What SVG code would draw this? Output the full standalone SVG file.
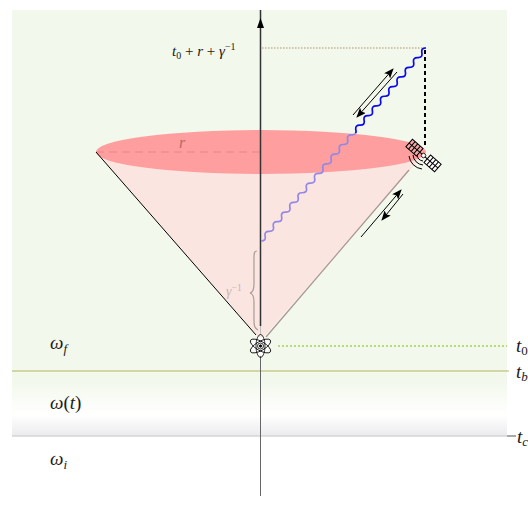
<svg xmlns="http://www.w3.org/2000/svg" width="528" height="525" viewBox="0 0 528 525">
<style>
.m{font-family:"Liberation Serif","Times New Roman",serif;font-style:italic;fill:#1a1a1a}
.n{font-style:normal}
.wave{fill:none;stroke-width:1.7}
.sat{fill:none;stroke:#000;stroke-width:1}
.arr{stroke:#000;stroke-width:1;fill:none;marker-end:url(#ah)}
</style>
<defs>
<linearGradient id="bg" x1="0" y1="0" x2="0" y2="1"><stop offset="0" stop-color="#f2f8ec"/><stop offset="0.915" stop-color="#f2f8ec"/><stop offset="0.985" stop-color="#fdfefc"/><stop offset="1" stop-color="#fff"/></linearGradient>
<linearGradient id="gr" x1="0" y1="0" x2="0" y2="1"><stop offset="0" stop-color="#fff"/><stop offset="1" stop-color="#ebebee"/></linearGradient>
<marker id="ah" viewBox="0 0 10 8" refX="9" refY="4" markerWidth="10" markerHeight="8" orient="auto" markerUnits="userSpaceOnUse"><path d="M0 0L10 4L0 8L2 4Z" fill="#000"/></marker>
<clipPath id="up"><rect x="340" y="20" width="100" height="113"/></clipPath>
<clipPath id="dn"><rect x="250" y="133" width="120" height="120"/></clipPath>
<path id="w" d="M261 241q5.1 .19 4.125 -4.825t4.125 -4.825t4.125 -4.825t4.125 -4.825t4.125 -4.825t4.125 -4.825t4.125 -4.825t4.125 -4.825t4.125 -4.825t4.125 -4.825t4.125 -4.825t4.125 -4.825t4.125 -4.825t4.125 -4.825t4.125 -4.825t4.125 -4.825t4.125 -4.825t4.125 -4.825t4.125 -4.825t4.125 -4.825t4.125 -4.825t4.125 -4.825t4.125 -4.825t4.125 -4.825t4.125 -4.825t4.125 -4.825t4.125 -4.825t4.125 -4.825t4.125 -4.825t4.125 -4.825t4.125 -4.825t4.125 -4.825t4.125 -4.825t4.125 -4.825t4.125 -4.825t4.125 -4.825t4.125 -4.825t4.125 -4.825t4.125 -4.825t4.125 -4.825"/>
</defs>
<rect id="background" x="12" y="10" width="495" height="405" fill="url(#bg)"/>
<rect id="background-lower" x="12" y="415" width="495" height="21" fill="url(#gr)"/>
<g id="cone">
<path d="M96 152L261 340L426 152Z" fill="#fbe5e1"/>
<ellipse cx="261" cy="152" rx="165" ry="22" fill="#ff9e9e"/>
<path d="M96 152H261" stroke="#e58686" stroke-width="1" stroke-dasharray="8 5" fill="none"/>
<path d="M96 152L256 335" stroke="#000" stroke-width="1" fill="none"/>
<path d="M266 337L409 170" stroke="#a89492" stroke-width="1.2" fill="none"/>
<text class="m" x="182" y="148" font-size="16" text-anchor="middle" fill-opacity="1" style="fill:#b56a6a">r</text>
</g>
<g id="connectors">
<path d="M12 371H509" stroke="#b5b25e" stroke-width="1.2" fill="none"/>
<path d="M12 436H507" stroke="#d4d4d8" stroke-width="1.6" fill="none"/>
<path d="M507 436H516" stroke="#555" stroke-width="1" fill="none"/>
<path d="M262 48H426" stroke="#c9b38f" stroke-width="1.4" stroke-dasharray="1.5 1.5" fill="none"/>
<path d="M278 346H507" stroke="#a8d050" stroke-width="1.6" stroke-dasharray="2 2" fill="none"/>
<path d="M425 50V146" stroke="#000" stroke-width="2" stroke-dasharray="4 3" fill="none"/>
<path d="M260.500 10V326" stroke="#333" stroke-width="1.5" fill="none"/>
<path d="M260.500 326V335" stroke="#bbb" stroke-width="1" fill="none"/>
<path d="M260.500 356V496" stroke="#666" stroke-width="1" fill="none"/>
<path d="M260.500 18L264 28H257Z" fill="#000"/>
<use href="#w" class="wave" stroke="#0a0aee" clip-path="url(#up)"/>
<use href="#w" class="wave" stroke="#9488e6" clip-path="url(#dn)"/>
<path class="arr" d="M353 115L393 69"/>
<path class="arr" d="M397 72L357 117"/>
<path class="arr" d="M361 237L401 190"/>
<path class="arr" d="M403 194L382 220"/>
<path d="M257 251Q254 251 254 256V284Q254 292 250 293Q254 294 254 302V322Q254 328 258 330" stroke="#a89a96" stroke-width="1.2" fill="none"/>
</g>
<g id="satellite">
<g transform="translate(423.500 155.500) rotate(41)">
<g transform="translate(-19 -5)">
<rect width="14" height="10" fill="#f4a8a8" stroke="#000"/>
<path class="sat" d="M3.500 0V10M7 0V10M10.500 0V10M0 5H14"/>
</g>
<g transform="translate(5 -5)">
<rect width="14" height="10" fill="#fff" stroke="#000"/>
<path class="sat" d="M3.500 0V10M7 0V10M10.500 0V10M0 5H14"/>
</g>
<path class="sat" d="M-5 0H5"/>
<circle r="2.200" fill="#fff" stroke="#000" stroke-width=".8"/>
</g>
<path class="sat" d="M417 155A7 7 0 0 0 423 161M413 155A11 11 0 0 0 423 165M409 156A15 15 0 0 0 422 169"/>
</g>
<g id="atom" transform="translate(260.500 346)">
<circle r="9" fill="#fff"/>
<g fill="none" stroke="#000" stroke-width=".8">
<ellipse rx="11.500" ry="4.500" transform="rotate(90)"/>
<ellipse rx="11.500" ry="4.500" transform="rotate(30)"/>
<ellipse rx="11.500" ry="4.500" transform="rotate(-30)"/>
<circle r="3"/>
<circle r="1.200" fill="#000"/>
</g>
</g>
<g id="labels">
<text class="m" x="172" y="56" font-size="15">t<tspan font-size="10" dy="3" class="n">0</tspan><tspan dy="-3" class="n"> + </tspan>r<tspan class="n"> + </tspan>γ<tspan font-size="10" dy="-6" class="n">−1</tspan></text>
<text class="m" x="226" y="296" font-size="14" style="fill:#c9b5b0">γ<tspan font-size="9.500" dy="-5" class="n">−1</tspan></text>
<text class="m" x="50" y="349" font-size="19">ω<tspan font-size="13" dy="4">f</tspan></text>
<text class="m" x="50" y="409" font-size="19">ω<tspan class="n">(</tspan>t<tspan class="n">)</tspan></text>
<text class="m" x="50" y="465" font-size="19">ω<tspan font-size="13" dy="4">i</tspan></text>
<text class="m" x="516" y="352" font-size="19">t<tspan font-size="13" dy="3" class="n">0</tspan></text>
<text class="m" x="516" y="378" font-size="19">t<tspan font-size="13" dy="3">b</tspan></text>
<text class="m" x="517" y="443" font-size="19">t<tspan font-size="13" dy="3">c</tspan></text>
</g>
</svg>
